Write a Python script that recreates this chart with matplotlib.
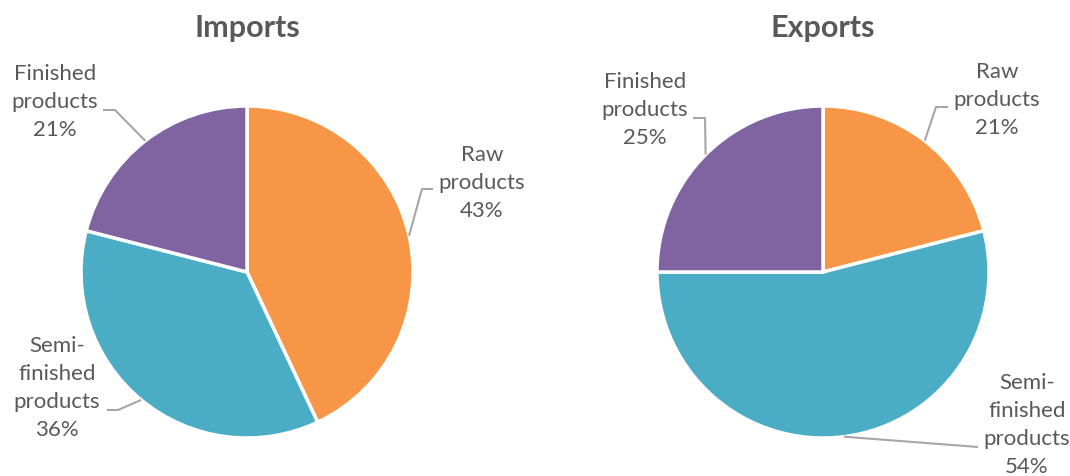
import matplotlib
matplotlib.use('Agg')

import matplotlib.pyplot as plt
import numpy as np

# data
categories = ['Raw\nproducts', 'Semi-\nfinished\nproducts', 'Finished\nproducts']
imports_pct = [43, 36, 21]
exports_pct = [21, 54, 25]
titles = ['Imports', 'Exports']

colors = ['#F79646', '#4BACC6', '#8064A2']
text_color = '#595959'
line_color = '#A6A6A6'

plt.rcParams['font.family'] = ['Lato', 'DejaVu Sans']

W, H = 1070, 476
fig = plt.figure(figsize=(W / 100, H / 100), dpi=100)
ax = fig.add_axes([0, 0, 1, 1])


def py(y):
    # pixel row (from top) -> data y
    return H - y


# layout per pie: center, radius, label centers, elbow points
pies = [
    dict(values=imports_pct, center=(247, 272), r=166,
         labels=[(482, 183), (57, 388), (55, 102)],
         elbows=[[(422, 189), (433, 189)],
                 [(118, 410), (107, 410)],
                 [(115, 110), (103, 110)]]),
    dict(values=exports_pct, center=(823, 272), r=166,
         labels=[(997, 100), (1027, 425), (645, 110)],
         elbows=[[(936, 107), (948, 107)],
                 [(978, 447)],
                 [(705, 118), (693, 118)]]),
]

for title, p in zip(titles, pies):
    cx, cy = p['center']
    wedges, _ = ax.pie(p['values'], colors=colors, startangle=90, counterclock=False,
                       center=(cx, py(cy)), radius=p['r'], frame=True,
                       wedgeprops=dict(edgecolor='white', linewidth=2.5))
    ax.text(cx, py(28), title, ha='center', va='center', fontsize=22,
            fontweight='bold', color=text_color)
    for w, cat, val, (lx, ly), elbow in zip(wedges, categories, p['values'],
                                            p['labels'], p['elbows']):
        mid = np.deg2rad((w.theta1 + w.theta2) / 2)
        ex = cx + p['r'] * np.cos(mid)
        ey = py(cy) + p['r'] * np.sin(mid)
        xs = [ex] + [e[0] for e in elbow]
        ys = [ey] + [py(e[1]) for e in elbow]
        ax.plot(xs, ys, color=line_color, lw=1.5, solid_capstyle='butt')
        ax.text(lx, py(ly), f'{cat}\n{val}%', ha='center', va='center',
                fontsize=16, color=text_color, linespacing=1.48)

ax.set_xlim(0, W)
ax.set_ylim(0, H)
ax.set_aspect('equal')
ax.axis('off')

fig.savefig('out.png', dpi=100, facecolor='white')
